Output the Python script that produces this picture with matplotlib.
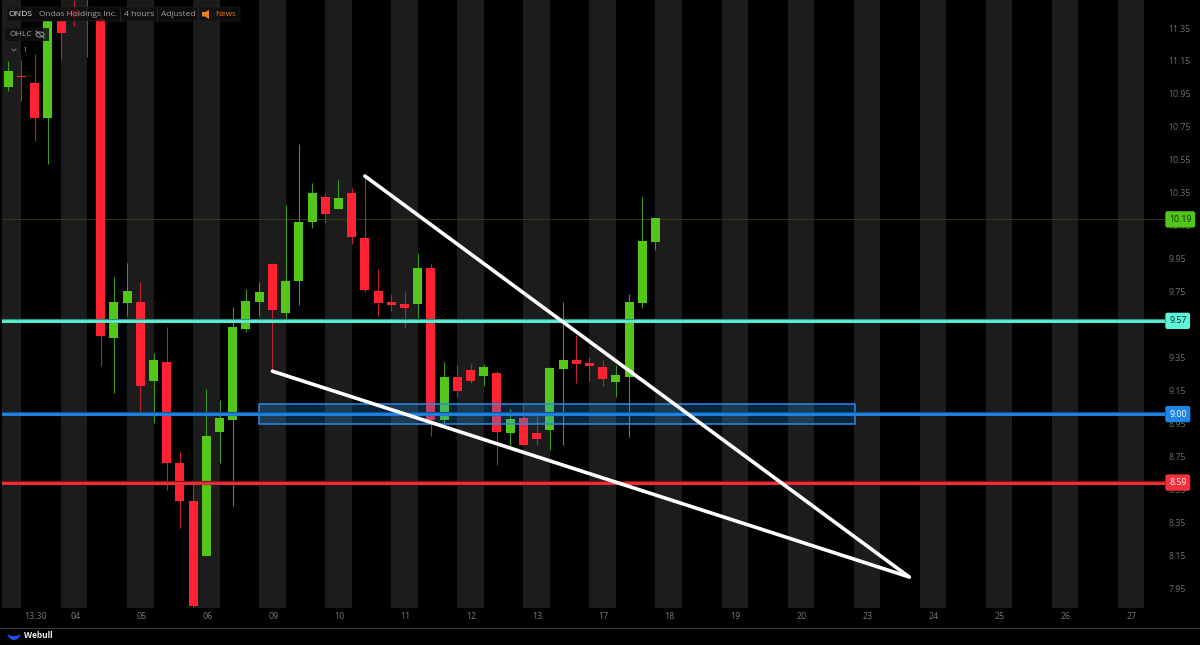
import matplotlib
matplotlib.use("Agg")
import matplotlib.pyplot as plt
import numpy as np
from matplotlib.patches import Rectangle, Ellipse, Polygon, FancyBboxPatch
from matplotlib.transforms import ScaledTranslation

plt.rcParams['font.family'] = ['Open Sans', 'DejaVu Sans']

# candles, one every 4 hours
opens = [10.99, 11.06, 11.017, 10.805, 11.39, 11.46, 11.62, 11.405, 9.471, 9.683,
         9.69, 9.21, 9.326, 8.714, 8.483, 8.15, 8.902, 8.974, 9.526, 9.69,
         9.92, 9.623, 9.817, 10.174, 10.326, 10.253, 10.35, 10.077, 9.756, 9.69,
         9.677, 9.677, 9.895, 8.974, 9.235, 9.277, 9.241, 9.259, 8.895, 8.986,
         8.895, 8.914, 9.283, 9.338, 9.32, 9.295, 9.205, 9.235, 9.683, 10.053]
closes = [11.09, 11.05, 10.805, 11.39, 11.32, 11.417, 11.57, 9.483, 9.69, 9.756,
          9.18, 9.338, 8.714, 8.483, 7.847, 8.877, 8.986, 9.538, 9.696, 9.75,
          9.64, 9.817, 10.174, 10.35, 10.223, 10.32, 10.083, 9.762, 9.683, 9.671,
          9.653, 9.895, 8.974, 9.235, 9.15, 9.21, 9.295, 8.902, 8.98, 8.823,
          8.859, 9.29, 9.338, 9.314, 9.302, 9.223, 9.247, 9.69, 10.059, 10.198]
highs = [11.15, 11.156, 11.19, 11.39, 11.39, 11.52, 11.64, 11.43, 9.841, 9.926,
         9.81, 9.38, 9.538, 8.786, 8.592, 9.162, 9.095, 9.659, 9.768, 9.81,
         9.926, 10.277, 10.647, 10.41, 10.35, 10.429, 10.38, 10.447, 9.889, 9.738,
         9.756, 9.986, 9.92, 9.326, 9.308, 9.314, 9.314, 9.271, 9.041, 9.077,
         9.029, 9.295, 9.69, 9.49, 9.356, 9.338, 9.308, 9.738, 10.326, 10.198]
lows = [10.97, 10.908, 10.665, 10.526, 11.156, 11.362, 11.174, 9.302, 9.138, 9.605,
        9.029, 8.956, 8.55, 8.32, 7.835, 8.15, 8.714, 8.453, 9.508, 9.605,
        9.277, 9.58, 9.671, 10.138, 10.168, 10.253, 10.041, 9.75, 9.605, 9.635,
        9.532, 9.593, 8.877, 8.956, 9.114, 9.198, 9.18, 8.702, 8.81, 8.823,
        8.823, 8.792, 8.823, 9.198, 9.21, 9.18, 9.114, 8.871, 9.653, 10.005]

date_ticks = [2, 5, 10, 15, 20, 25, 30, 35, 40, 45, 50, 55, 60, 65, 70, 75, 80, 85]
date_labels = ["13:30", "04", "05", "06", "09", "10", "11", "12", "13", "17",
               "18", "19", "20", "23", "24", "25", "26", "27"]
# 9.55 sits fully behind the 9.57 badge in the reference
price_ticks = [7.95, 8.15, 8.35, 8.55, 8.75, 8.95, 9.15, 9.35, 9.75, 9.95,
               10.15, 10.35, 10.55, 10.75, 10.95, 11.15, 11.35]

# drawings on the chart
upper_line_x = [27, 68.2]
upper_line_y = [10.453, 8.023]
lower_line_x = [20, 68.2]
lower_line_y = [9.27, 8.023]
zone_x = [19, 64.1]
zone_y = [8.95, 9.07]
levels = [9.575, 9.01, 8.595]
level_labels = ["9.57", "9.00", "8.59"]
level_colors = ["#5ff3d8", "#2086e6", "#f5303c"]
level_under = ["#2f8f80", "#124f90", "#8a1018"]
level_text = ["#06302a", "#ffffff", "#ffffff"]
last_price = 10.19

GREEN = "#52c71a"
RED = "#ff2233"
W, H = 1200, 645


def fx(x):
    return x / W


def fy(y):
    return 1 - y / H


fig = plt.figure(figsize=(12, 6.45), dpi=100, facecolor="black")
ax = fig.add_axes([fx(2), fy(608), 1163 / W, 608 / H], facecolor="black")
ax.set_xlim(-0.47, 87.57)
ax.set_ylim(7.8348, 11.5197)

# day stripes
for c in range(0, 90, 5):
    ax.axvspan(c - 1, c + 1, color="#1c1c1c", lw=0, zorder=0)

ax.axhline(last_price, color="#36420f", lw=0.6, zorder=1)

idx = np.arange(len(opens))
o = np.array(opens)
c = np.array(closes)
up = c >= o
colors = np.where(up, GREEN, RED)
wick_colors = np.where(up, "#3f9a1c", "#c0202e")
ax.vlines(idx, lows, highs, colors=wick_colors, lw=0.8, zorder=2)
ax.bar(idx, np.abs(c - o), bottom=np.minimum(o, c), width=0.68, color=colors, lw=0, zorder=3)

# support zone
ax.add_patch(Rectangle((zone_x[0], zone_y[0]), zone_x[1] - zone_x[0], zone_y[1] - zone_y[0],
                       facecolor="#2196f3", alpha=0.25, lw=0, zorder=4))
ax.add_patch(Rectangle((zone_x[0], zone_y[0]), zone_x[1] - zone_x[0], zone_y[1] - zone_y[0],
                       fill=False, edgecolor="#2a8ae6", lw=1.1, zorder=4))

badge = dict(boxstyle="round,pad=0.42,rounding_size=0.25", ec="none")
for lev, lab, col, under, tcol in zip(levels, level_labels, level_colors, level_under, level_text):
    ax.axhline(lev, color=under, lw=3.0, zorder=5)
    ax.axhline(lev, color=col, lw=1.9, zorder=5)
    ax.text(1 + 4 / 1163, lev, lab, transform=ax.get_yaxis_transform(), color=tcol,
            fontsize=6.3, va="center", ha="left", clip_on=False, zorder=10, bbox=dict(fc=col, **badge))
ax.text(1 + 4 / 1163, last_price, "%.2f" % last_price, transform=ax.get_yaxis_transform(),
        color="#10300a", fontsize=6.3, va="center", ha="left", clip_on=False, zorder=10,
        bbox=dict(fc=GREEN, **badge))

ax.plot(upper_line_x, upper_line_y, color="white", lw=2.6, zorder=6, solid_capstyle="round")
ax.plot(lower_line_x, lower_line_y, color="white", lw=2.6, zorder=6, solid_capstyle="round")

for s in ax.spines.values():
    s.set_visible(False)
ax.yaxis.tick_right()
ax.set_xticks(date_ticks)
ax.set_xticklabels(date_labels)
ax.set_yticks(price_ticks)
ax.set_yticklabels(["%.2f" % p for p in price_ticks])
ax.tick_params(axis="x", length=0, pad=3, labelsize=6.4, labelcolor="#777777")
ax.tick_params(axis="y", length=0, pad=2.5, labelsize=6.3, labelcolor="#6e6e6e")
for lbl in ax.get_xticklabels():
    lbl.set_transform(lbl.get_transform() + ScaledTranslation(0.01, 0, fig.dpi_scale_trans))

# header
fig.add_artist(FancyBboxPatch((fx(7), fy(21)), 233 / W, 14 / H, boxstyle="round,pad=0,rounding_size=0.002",
                              transform=fig.transFigure, fc="#101010", ec="#222222", lw=0.5, alpha=0.78, zorder=20))
fig.add_artist(Rectangle((fx(5), fy(41)), 44 / W, 13 / H, transform=fig.transFigure, fc="#101010", alpha=0.85,
                         lw=0, zorder=20))
for sx in [120, 157, 198]:
    fig.add_artist(plt.Line2D([fx(sx), fx(sx)], [fy(8), fy(21)], color="#2a2a2a", lw=0.6, zorder=21))
fig.text(fx(8.5), fy(14), "ONDS", color="#e6e6e6", fontsize=6.1, va="center", zorder=22)
fig.text(fx(39), fy(14), "Ondas Holdings Inc.", color="#a0a0a0", fontsize=6.05, va="center", zorder=22)
fig.text(fx(124), fy(14), "4 hours", color="#a0a0a0", fontsize=6.1, va="center", zorder=22)
fig.text(fx(161), fy(14), "Adjusted", color="#a0a0a0", fontsize=6.0, va="center", zorder=22)
fig.text(fx(215), fy(14), "News", color="#e07a1f", fontsize=5.9, va="center", zorder=22)
fig.add_artist(Polygon([(fx(202), fy(12)), (fx(205), fy(12)), (fx(209), fy(10)), (fx(209), fy(19)),
                        (fx(205), fy(16.5)), (fx(202), fy(16.5))], transform=fig.transFigure,
                       fc="#e8801f", lw=0, zorder=22))
fig.text(fx(9), fy(34.5), "OHLC", color="#a0a0a0", fontsize=6.1, va="center", zorder=22)
fig.add_artist(Ellipse((fx(40), fy(34.5)), 8 / W, 5 / H, transform=fig.transFigure, fill=False,
                       ec="#a0a0a0", lw=0.7, zorder=22))
fig.add_artist(plt.Line2D([fx(36), fx(44)], [fy(31), fy(38)], color="#a0a0a0", lw=0.7, zorder=22))
fig.add_artist(plt.Line2D([fx(12), fx(14), fx(16)], [fy(49), fy(51), fy(49)], color="#888888", lw=0.6, zorder=22))
fig.text(fx(22), fy(50), "1", color="#888888", fontsize=6, va="center", zorder=22)

# footer
fig.add_artist(plt.Line2D([0, 1], [fy(627.5), fy(627.5)], color="#3a3a3a", lw=0.8))
t = np.linspace(0, np.pi, 30)
outer_x = fx(14) + np.cos(t) * 6.5 / W
outer_y = fy(633) - np.sin(t) * 7 / H
inner_y = fy(633) - np.sin(t[::-1]) * 3 / H
fig.add_artist(Polygon(np.column_stack([np.r_[outer_x, outer_x[::-1]], np.r_[outer_y, inner_y]]),
                       transform=fig.transFigure, fc="#1f4fe8", lw=0))
fig.text(fx(24), fy(636), "Webull", color="#f0f0f0", fontsize=6, fontweight="bold", va="center")

fig.savefig("out.png", dpi=100, facecolor="black")
